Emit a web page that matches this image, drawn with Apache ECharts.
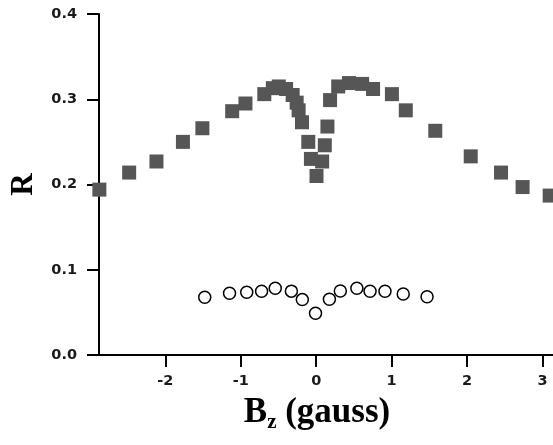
<!DOCTYPE html>
<html>
<head>
<meta charset="utf-8">
<script src="https://cdn.jsdelivr.net/npm/echarts@6/dist/echarts.min.js"></script>
<style>html,body{margin:0;padding:0;background:#fff;}#c{width:553px;height:445px;}</style>
</head>
<body>
<div id="c"></div>
<script>
// Filled squares: R vs Bz
const squareX = [-2.875,-2.480,-2.118,-1.767,-1.509,-1.114,-0.938,-0.688,-0.575,-0.496,-0.399,-0.312,-0.259,-0.233,-0.188,-0.105,-0.070,0.004,0.079,0.114,0.149,0.184,0.292,0.434,0.609,0.754,1.004,1.188,1.579,2.049,2.451,2.737,3.096];
const squareY = [0.194,0.214,0.227,0.250,0.266,0.286,0.295,0.306,0.313,0.315,0.312,0.305,0.296,0.287,0.273,0.250,0.230,0.210,0.227,0.246,0.268,0.299,0.315,0.319,0.318,0.312,0.306,0.287,0.263,0.233,0.214,0.197,0.187];
// Open circles
const circleX = [-1.478,-1.149,-0.921,-0.724,-0.543,-0.329,-0.184,-0.009,0.175,0.320,0.539,0.714,0.912,1.154,1.470];
const circleY = [0.0677,0.0724,0.0736,0.0748,0.0783,0.0749,0.0650,0.0489,0.0654,0.0751,0.0783,0.0748,0.0748,0.0716,0.0684];
const xTicks = [-2,-1,0,1,2,3];
const yTicks = [0,0.1,0.2,0.3,0.4];

const chart = echarts.init(document.getElementById('c'), null, {renderer:'canvas'});
const axisLine = {show:true, onZero:false, lineStyle:{color:'#000', width:2}};
const tickStyle = {color:'#000', width:2};
const labelFont = {fontFamily:'DejaVu Sans, Arial, sans-serif', fontWeight:'bold', fontSize:14.5, color:'#1a1a1a'};
const serif = 'Liberation Serif, Times New Roman, serif';
chart.setOption({
  animation:false,
  backgroundColor:'#fff',
  grid:{left:95, right:0, top:14, bottom:90, containLabel:false},
  xAxis:{
    type:'value', min:-2.88, max:3.14,
    axisLine:axisLine,
    axisTick:{show:true, inside:false, length:12, lineStyle:tickStyle, customValues:xTicks},
    axisLabel:Object.assign({margin:19, customValues:xTicks, formatter:v=>String(v)}, labelFont),
    splitLine:{show:false},
    name:'{b|B}{s|z}{b| (gauss)}',
    nameLocation:'middle', nameGap:37,
    nameTextStyle:{padding:[0,18,0,0], rich:{
      b:{fontFamily:serif, fontWeight:'bold', fontSize:35, color:'#000'},
      s:{fontFamily:serif, fontWeight:'bold', fontSize:21, color:'#000', padding:[20,0,0,0]}
    }}
  },
  yAxis:{
    type:'value', min:0, max:0.4,
    axisLine:axisLine,
    axisTick:{show:true, inside:false, length:12, lineStyle:tickStyle, customValues:yTicks},
    axisLabel:Object.assign({margin:22, customValues:yTicks, formatter:v=>v.toFixed(1)}, labelFont),
    splitLine:{show:false},
    name:'R', nameLocation:'middle', nameGap:60, nameRotate:90,
    nameTextStyle:{fontFamily:serif, fontWeight:'bold', fontSize:31, color:'#000'}
  },
  series:[
    {type:'scatter', symbol:'rect', symbolSize:14, clip:false,
     itemStyle:{color:'#565656', opacity:1},
     data:squareX.map((x,i)=>[x,squareY[i]])},
    {type:'scatter', symbol:'circle', symbolSize:12, clip:false,
     itemStyle:{color:'#fff', borderColor:'#000', borderWidth:1.5, opacity:1},
     data:circleX.map((x,i)=>[x,circleY[i]])}
  ]
});
</script>
</body>
</html>
